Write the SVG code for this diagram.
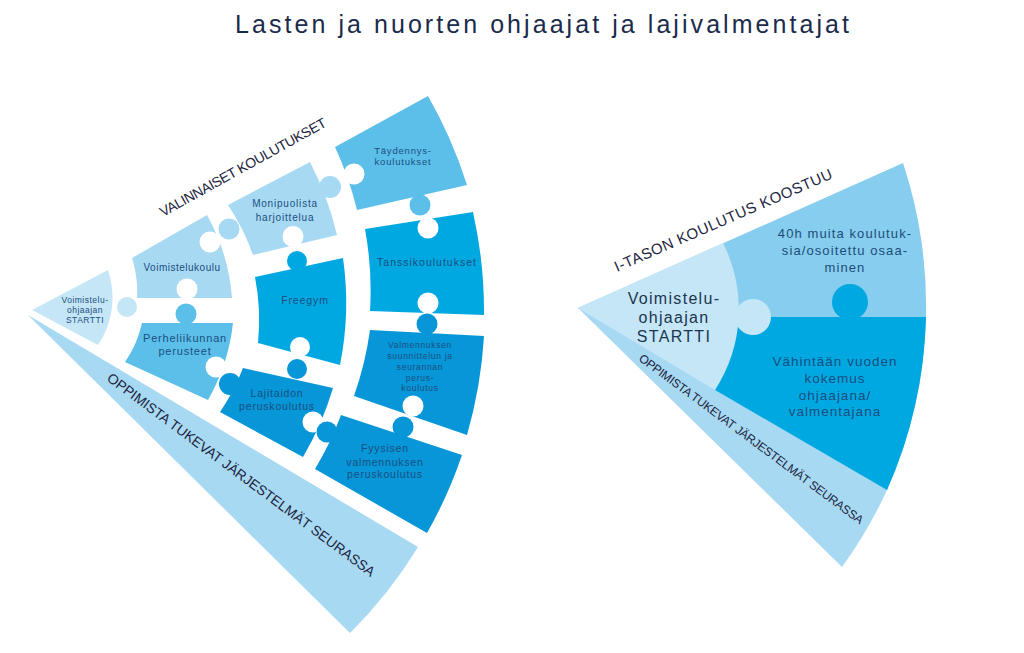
<svg xmlns="http://www.w3.org/2000/svg" width="1024" height="653" viewBox="0 0 1024 653">
<style>
text{font-family:"Liberation Sans","DejaVu Sans",Arial,sans-serif}
.lbl{text-anchor:middle}
.hole{fill:#ffffff}
.c0{fill:#c5e6f7}
.c1{fill:#a7d9f3}
.c2{fill:#5cbfea}
.c3{fill:#00a8e1}
.c4{fill:#0796d7}
.m{fill:#86cdef}
.hdr{fill:#1c2440}
</style>
<rect width="1024" height="653" fill="#ffffff"/>
<g id="title">
<text x="235" y="33" font-size="25" fill="#1b2b4b" textLength="614" lengthAdjust="spacing">Lasten ja nuorten ohjaajat ja lajivalmentajat</text>
</g>
<g id="connectors"/>

<!-- LEFT FAN -->
<g id="left-band">
<path class="c1" d="M28,315 L418,547 A453,453 0 0 1 350,633 Z"/>
<text class="hdr" font-size="14" transform="translate(106,380) rotate(36.7)" textLength="330" lengthAdjust="spacing">OPPIMISTA TUKEVAT JÄRJESTELMÄT SEURASSA</text>
</g>
<g id="left-header">
<text class="hdr" font-size="14" transform="translate(163,217) rotate(-29)" textLength="188" lengthAdjust="spacing">VALINNAISET KOULUTUKSET</text>
</g>
<g id="l-startti" fill="#1a4f80" font-size="8.5" letter-spacing="0.5">
<path class="c0" d="M32,310 L108,270 A85,85 0 0 1 98,345 Z"/>
<circle class="c0" cx="127" cy="307" r="10"/>
<text class="lbl" x="85" y="303">Voimistelu-</text>
<text class="lbl" x="85" y="313">ohjaajan</text>
<text class="lbl" x="85" y="323">STARTTI</text>
</g>
<g id="l-voimistelukoulu" fill="#1a4f80" font-size="10" letter-spacing="0.5">
<path class="c1" d="M132,258 L207,215 A200,200 0 0 1 232,298 L137,298 A110,110 0 0 0 132,258 Z"/>
<circle class="hole" cx="210" cy="242" r="10.5"/>
<circle class="hole" cx="187" cy="289" r="10.5"/>
<text class="lbl" x="182" y="270.5">Voimistelukoulu</text>
</g>
<g id="l-monipuolista" fill="#1a4f80" font-size="10" letter-spacing="0.8">
<path class="c1" d="M228,205 L310,162 A314,314 0 0 1 337,235 L253,255 A226,226 0 0 0 228,205 Z"/>
<circle class="c1" cx="229" cy="229" r="10.5"/>
<circle class="c1" cx="330" cy="187" r="11"/>
<circle class="hole" cx="293" cy="236.5" r="10.5"/>
<text class="lbl" x="285" y="207">Monipuolista</text>
<text class="lbl" x="285" y="220.5">harjoittelua</text>
</g>
<g id="l-taydennys" fill="#1a4f80" font-size="9.5" letter-spacing="0.8">
<path class="c2" d="M335,147 L428,96 A451,451 0 0 1 467,185 L357,210 A342,342 0 0 0 335,147 Z"/>
<circle class="hole" cx="354" cy="174" r="10.5"/>
<circle class="c2" cx="420" cy="205" r="10.5"/>
<text class="lbl" x="403" y="153.5">Täydennys-</text>
<text class="lbl" x="403" y="165">koulutukset</text>
</g>
<g id="l-perheliikunnan" fill="#1a4f80" font-size="11" letter-spacing="0.8">
<path class="c2" d="M142,323 L233,323 A200,200 0 0 1 208,400 L125,362 A108,108 0 0 0 142,323 Z"/>
<circle class="c2" cx="186" cy="314" r="10.5"/>
<circle class="hole" cx="216" cy="367" r="10.5"/>
<text class="lbl" x="185" y="342">Perheliikunnan</text>
<text class="lbl" x="185" y="354.5">perusteet</text>
</g>
<g id="l-freegym" fill="#1a4f80" font-size="10.5" letter-spacing="0.9">
<path class="c3" d="M255,277 L343,258 A314,314 0 0 1 340,365 L258,343 A226,226 0 0 0 255,277 Z"/>
<circle class="c3" cx="297" cy="261" r="10"/>
<circle class="hole" cx="300" cy="347" r="10"/>
<text class="lbl" x="305" y="303.5">Freegym</text>
</g>
<g id="l-tanssi" fill="#1a4f80" font-size="10.5" letter-spacing="1">
<path class="c3" d="M365,229 L473,212 A452,452 0 0 1 484,315 L370,311 A338,338 0 0 0 365,229 Z"/>
<circle class="hole" cx="428" cy="228" r="10.5"/>
<circle class="hole" cx="428" cy="303" r="10.5"/>
<text class="lbl" x="427" y="265.5">Tanssikoulutukset</text>
</g>
<g id="l-lajitaidon" fill="#1a4f80" font-size="10.5" letter-spacing="0.8">
<path class="c4" d="M243,368 L333,388 A310,310 0 0 1 303,457 L220,412 A215,215 0 0 0 243,368 Z"/>
<circle class="c4" cx="230" cy="384" r="11"/>
<circle class="c4" cx="297" cy="369" r="10"/>
<circle class="hole" cx="313" cy="422" r="10.5"/>
<text class="lbl" x="277" y="396.5">Lajitaidon</text>
<text class="lbl" x="277" y="410">peruskoulutus</text>
</g>
<g id="l-valmennuksen" fill="#1a4f80" font-size="8.5" letter-spacing="0.7">
<path class="c4" d="M370,330 L484,336 A452,452 0 0 1 467,435 L354,396 A336,336 0 0 0 370,330 Z"/>
<circle class="c4" cx="427" cy="324" r="10.5"/>
<circle class="hole" cx="413" cy="406" r="10.5"/>
<text class="lbl" x="420" y="348">Valmennuksen</text>
<text class="lbl" x="420" y="359">suunnittelun ja</text>
<text class="lbl" x="420" y="370">seurannan</text>
<text class="lbl" x="420" y="380.5">perus-</text>
<text class="lbl" x="420" y="391">koulutus</text>
</g>
<g id="l-fyysisen" fill="#1a4f80" font-size="10.5" letter-spacing="0.8">
<path class="c4" d="M341,415 L462,455 A453,453 0 0 1 427,533 L315,469 A325,325 0 0 0 341,415 Z"/>
<circle class="c4" cx="403" cy="427" r="10.5"/>
<circle class="c4" cx="327" cy="432" r="10.5"/>
<text class="lbl" x="385" y="452">Fyysisen</text>
<text class="lbl" x="385" y="465.5">valmennuksen</text>
<text class="lbl" x="385" y="477.5">peruskoulutus</text>
</g>

<!-- RIGHT FAN -->
<g id="right-header">
<text class="hdr" font-size="15" transform="translate(617,272) rotate(-23.5)" textLength="236" lengthAdjust="spacing">I-TASON KOULUTUS KOOSTUU</text>
</g>
<g id="r-band">
<path class="c1" d="M578,308 L887,490 A453,453 0 0 1 842,567 Z"/>
<text class="hdr" font-size="12" transform="translate(638,360) rotate(36.6)" textLength="276" lengthAdjust="spacing">OPPIMISTA TUKEVAT JÄRJESTELMÄT SEURASSA</text>
</g>
<g id="r-40h" fill="#1d4d78" font-size="13" letter-spacing="1.1">
<path class="m" d="M578,308 L903,163 A453,453 0 0 1 887,490 Z"/>
<text class="lbl" x="845" y="237.5">40h muita koulutuk-</text>
<text class="lbl" x="845" y="254.5">sia/osoitettu osaa-</text>
<text class="lbl" x="845" y="271.5">minen</text>
</g>
<g id="r-kokemus" fill="#1a4f80" font-size="13.5" letter-spacing="1">
<path class="c3" d="M738,317 L926,317 A453,453 0 0 1 887,490 L715,390 Z"/>
<circle class="c3" cx="850" cy="302" r="18"/>
<text class="lbl" x="835" y="366">Vähintään vuoden</text>
<text class="lbl" x="835" y="382.5">kokemus</text>
<text class="lbl" x="835" y="399.5">ohjaajana/</text>
<text class="lbl" x="835" y="416">valmentajana</text>
</g>
<g id="r-startti" fill="#1c3550" font-size="16" letter-spacing="1.3">
<path class="c0" d="M578,308 L723,243 A147,147 0 0 1 715,390 Z"/>
<circle class="c0" cx="753" cy="317" r="18"/>
<text class="lbl" x="674" y="304">Voimistelu-</text>
<text class="lbl" x="674" y="322.5">ohjaajan</text>
<text class="lbl" x="674" y="341.5">STARTTI</text>
</g>
</svg>
